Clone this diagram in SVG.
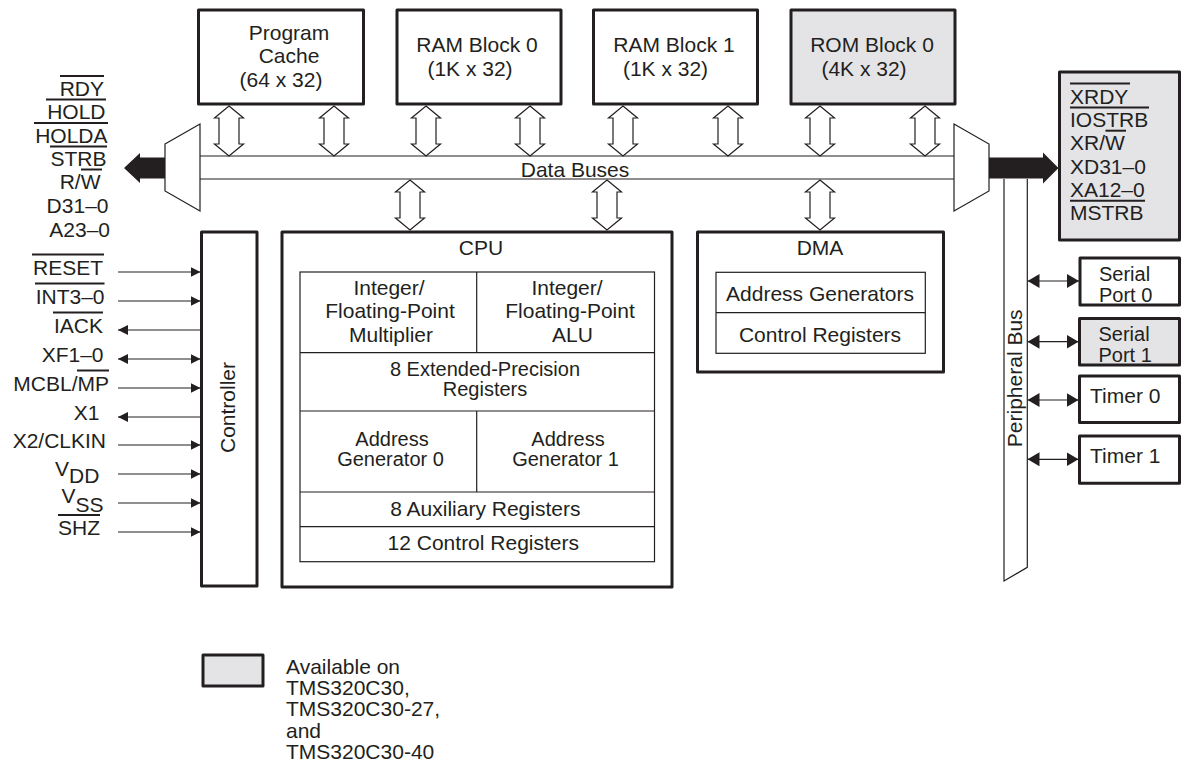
<svg xmlns="http://www.w3.org/2000/svg" width="1182" height="769" viewBox="0 0 1182 769">
<style>
text{font-family:"Liberation Sans",Arial,Helvetica,sans-serif;font-size:21px;fill:#231f20}
.c{text-anchor:middle}.e{text-anchor:end}
.t{font-size:20px}
.box{fill:#fff;stroke:#231f20;stroke-width:3;stroke-linejoin:round}
.gray{fill:#e4e4e6}
.thin{fill:none;stroke:#231f20;stroke-width:1.2}
.ol{stroke:#231f20;stroke-width:2}
.hollow{fill:#fff;stroke:#231f20;stroke-width:1.2}
.sig{stroke:#231f20;stroke-width:1.2;fill:none}
</style>
<defs>
<path id="dbl" d="M0,0 L14.5,12 L10,12 L10,38 L14.5,38 L0,50 L-14.5,38 L-10,38 L-10,12 L-14.5,12 Z"/>
<marker id="ah" viewBox="0 0 10 10" refX="10" refY="5" markerWidth="10" markerHeight="10" markerUnits="userSpaceOnUse" orient="auto-start-reverse"><path d="M0,0 L10,5 L0,10 Z" fill="#231f20"/></marker>
<marker id="ah2" viewBox="0 0 12 14" refX="12" refY="7" markerWidth="12" markerHeight="14" markerUnits="userSpaceOnUse" orient="auto-start-reverse"><path d="M0,0 L12,7 L0,14 Z" fill="#231f20"/></marker>
</defs>
<rect width="1182" height="769" fill="#fff"/>

<!-- Memory blocks -->
<g id="program-cache">
<rect class="box" x="198.5" y="10" width="165" height="94"/>
<text class="c" x="289" y="39.5">Program</text>
<text class="c" x="289" y="63">Cache</text>
<text class="c" x="281" y="87">(64 x 32)</text>
</g>
<g id="ram-block-0">
<rect class="box" x="397" y="10" width="164" height="94"/>
<text class="c" x="477" y="52">RAM Block 0</text>
<text class="c" x="470" y="76">(1K x 32)</text>
</g>
<g id="ram-block-1">
<rect class="box" x="593.5" y="10" width="164" height="94"/>
<text class="c" x="674" y="52">RAM Block 1</text>
<text class="c" x="665.5" y="76">(1K x 32)</text>
</g>
<g id="rom-block-0">
<rect class="box gray" x="791" y="10" width="164" height="94"/>
<text class="c" x="872" y="52">ROM Block 0</text>
<text class="c" x="864" y="76">(4K x 32)</text>
</g>

<!-- Data buses -->
<g id="data-buses">
<line class="thin" x1="200" y1="156" x2="954" y2="156"/>
<line class="thin" x1="200" y1="179" x2="954" y2="179"/>
<text class="c" x="575" y="177">Data Buses</text>
</g>

<!-- Left mux and external bus -->
<g id="left-mux">
<polygon class="thin" points="165,144 200,124 200,211 165,191"/>
<polygon points="165,157.5 140,157.5 140,153 124,168 140,183 140,178.5 165,178.5" fill="#231f20"/>
</g>
<g id="left-bus-signals">
<text class="e" x="104" y="96">RDY</text><line class="ol" x1="60" y1="76" x2="104" y2="76"/>
<text class="e" x="105.5" y="119">HOLD</text><line class="ol" x1="46" y1="99.5" x2="106" y2="99.5"/>
<text class="e" x="107.5" y="143">HOLDA</text><line class="ol" x1="34" y1="123" x2="108" y2="123"/>
<text class="e" x="106.5" y="166">STRB</text><line class="ol" x1="50" y1="146.5" x2="107" y2="146.5"/>
<text class="e" x="100.5" y="189">R/W</text><line class="ol" x1="81" y1="169.5" x2="102" y2="169.5"/>
<text class="e" x="108.5" y="213">D31–0</text>
<text class="e" x="110" y="237">A23–0</text>
</g>

<!-- Right mux and expansion bus -->
<g id="right-mux">
<polygon class="thin" points="954,124 989,144 989,191 954,211"/>
<polygon points="989,157.5 1043,157.5 1043,152.5 1058.5,168 1043,183.5 1043,178.5 989,178.5" fill="#231f20"/>
</g>
<g id="expansion-bus">
<rect class="box gray" x="1059.5" y="72" width="120" height="168"/>
<text x="1070" y="103.5">XRDY</text><line class="ol" x1="1070" y1="83.5" x2="1130" y2="83.5"/>
<text x="1070" y="126.5">IOSTRB</text><line class="ol" x1="1070" y1="107.5" x2="1149" y2="107.5"/>
<text x="1070" y="150">XR/W</text><line class="ol" x1="1105.5" y1="130.7" x2="1126" y2="130.7"/>
<text x="1070" y="173.5">XD31–0</text>
<text x="1070" y="197.3">XA12–0</text>
<text x="1070" y="220">MSTRB</text><line class="ol" x1="1070" y1="200.7" x2="1145" y2="200.7"/>
</g>

<!-- Controller -->
<g id="controller">
<rect class="box" x="201.5" y="232" width="55.5" height="354"/>
<text class="c" transform="translate(235,407.5) rotate(-90)">Controller</text>
</g>
<g id="controller-signals">
<text class="e" x="103" y="275">RESET</text><line class="ol" x1="32" y1="254.5" x2="104" y2="254.5"/>
<text class="e" x="104.5" y="304">INT3–0</text><line class="ol" x1="35" y1="283.5" x2="104.5" y2="283.5"/>
<text class="e" x="103" y="332.5">IACK</text><line class="ol" x1="53" y1="312.5" x2="103" y2="312.5"/>
<text class="e" x="103.5" y="361.7">XF1–0</text>
<text class="e" x="109" y="390.7">MCBL/MP</text><line class="ol" x1="77" y1="370.5" x2="109" y2="370.5"/>
<text class="e" x="99.5" y="420">X1</text>
<text class="e" x="106" y="448.3">X2/CLKIN</text>
<text x="55" y="476">V<tspan dy="7">DD</tspan></text>
<text x="61.5" y="503">V<tspan dy="9">SS</tspan></text>
<text class="e" x="100" y="535">SHZ</text><line class="ol" x1="58" y1="515" x2="100" y2="515"/>
</g>

<!-- CPU -->
<g id="cpu">
<rect class="box" x="282" y="232" width="390" height="355"/>
<text class="c" x="481" y="254.5">CPU</text>
<rect class="thin" x="300" y="272" width="354.5" height="289.7"/>
<line class="thin" x1="300" y1="352.7" x2="654.5" y2="352.7"/>
<line class="thin" x1="300" y1="411" x2="654.5" y2="411"/>
<line class="thin" x1="300" y1="492" x2="654.5" y2="492"/>
<line class="thin" x1="300" y1="526.7" x2="654.5" y2="526.7"/>
<line class="thin" x1="476.7" y1="272" x2="476.7" y2="352.7"/>
<line class="thin" x1="476.7" y1="411" x2="476.7" y2="492"/>
<text class="c" x="389" y="295">Integer/</text>
<text class="c" x="390" y="318.3">Floating-Point</text>
<text class="c" x="391" y="341.7">Multiplier</text>
<text class="c" x="567" y="295">Integer/</text>
<text class="c" x="570" y="318.3">Floating-Point</text>
<text class="c" x="572.5" y="341.7">ALU</text>
<text class="c t" x="485" y="376">8 Extended-Precision</text>
<text class="c t" x="485" y="396">Registers</text>
<text class="c t" x="392" y="446">Address</text>
<text class="c t" x="390.5" y="466">Generator 0</text>
<text class="c t" x="568" y="446">Address</text>
<text class="c t" x="565.5" y="466">Generator 1</text>
<text class="c" x="485.3" y="515.7">8 Auxiliary Registers</text>
<text class="c" x="483.3" y="550">12 Control Registers</text>
</g>

<!-- DMA -->
<g id="dma">
<rect class="box" x="697.5" y="232" width="246" height="140"/>
<text class="c" x="820" y="254.5">DMA</text>
<rect class="thin" x="716" y="272.3" width="209.3" height="81"/>
<line class="thin" x1="716" y1="312.7" x2="925.3" y2="312.7"/>
<text class="c" x="820" y="301">Address Generators</text>
<text class="c" x="820" y="341.7">Control Registers</text>
</g>

<!-- Peripheral bus -->
<g id="peripheral-bus">
<path class="thin" d="M1004,179 L1004,581 L1027.3,567.3 L1027.3,179"/>
<text class="c" transform="translate(1021.5,378.3) rotate(-90)">Peripheral Bus</text>
</g>
<g id="serial-port-0">
<rect class="box" x="1080" y="258" width="99.5" height="47"/>
<text class="t" x="1099" y="280.5">Serial</text>
<text class="t" x="1099" y="301.5">Port 0</text>
</g>
<g id="serial-port-1">
<rect class="box gray" x="1079.5" y="318.5" width="100" height="46.5"/>
<text class="t" x="1098.5" y="340.5">Serial</text>
<text class="t" x="1098.5" y="361.5">Port 1</text>
</g>
<g id="timer-0">
<rect class="box" x="1079.5" y="376" width="100" height="46.5"/>
<text x="1090" y="402.7">Timer 0</text>
</g>
<g id="timer-1">
<rect class="box" x="1079.5" y="436" width="100" height="47.3"/>
<text x="1090" y="462.7">Timer 1</text>
</g>

<!-- Legend -->
<g id="legend">
<rect class="box gray" x="203" y="655" width="60" height="31"/>
<text x="286" y="673.5">Available on</text>
<text x="286" y="695">TMS320C30,</text>
<text x="286" y="716.3">TMS320C30-27,</text>
<text x="286" y="737.5">and</text>
<text x="286" y="758.8">TMS320C30-40</text>
</g>

<!-- Connectors -->
<g id="connectors">
<use href="#dbl" class="hollow" x="229" y="106"/>
<use href="#dbl" class="hollow" x="334" y="106"/>
<use href="#dbl" class="hollow" x="426" y="106"/>
<use href="#dbl" class="hollow" x="530" y="106"/>
<use href="#dbl" class="hollow" x="623" y="106"/>
<use href="#dbl" class="hollow" x="728" y="106"/>
<use href="#dbl" class="hollow" x="820" y="106"/>
<use href="#dbl" class="hollow" x="925" y="106"/>
<use href="#dbl" class="hollow" x="410" y="180"/>
<use href="#dbl" class="hollow" x="607" y="180"/>
<use href="#dbl" class="hollow" x="820" y="180"/>

<line class="sig" x1="118" y1="272" x2="200.5" y2="272" marker-end="url(#ah)"/>
<line class="sig" x1="118" y1="301" x2="200.5" y2="301" marker-end="url(#ah)"/>
<line class="sig" x1="200.5" y1="330" x2="118" y2="330" marker-end="url(#ah)"/>
<line class="sig" x1="118" y1="359" x2="200.5" y2="359" marker-start="url(#ah)" marker-end="url(#ah)"/>
<line class="sig" x1="118" y1="388" x2="200.5" y2="388" marker-end="url(#ah)"/>
<line class="sig" x1="200.5" y1="417" x2="118" y2="417" marker-end="url(#ah)"/>
<line class="sig" x1="118" y1="445" x2="200.5" y2="445" marker-end="url(#ah)"/>
<line class="sig" x1="118" y1="474" x2="200.5" y2="474" marker-end="url(#ah)"/>
<line class="sig" x1="118" y1="503" x2="200.5" y2="503" marker-end="url(#ah)"/>
<line class="sig" x1="118" y1="532" x2="200.5" y2="532" marker-end="url(#ah)"/>

<line class="sig" x1="1027.5" y1="281" x2="1079" y2="281" marker-start="url(#ah2)" marker-end="url(#ah2)"/>
<line class="sig" x1="1027.5" y1="341.7" x2="1078.5" y2="341.7" marker-start="url(#ah2)" marker-end="url(#ah2)"/>
<line class="sig" x1="1027.5" y1="400" x2="1078.5" y2="400" marker-start="url(#ah2)" marker-end="url(#ah2)"/>
<line class="sig" x1="1027.5" y1="459.3" x2="1078.5" y2="459.3" marker-start="url(#ah2)" marker-end="url(#ah2)"/>
</g>
</svg>
